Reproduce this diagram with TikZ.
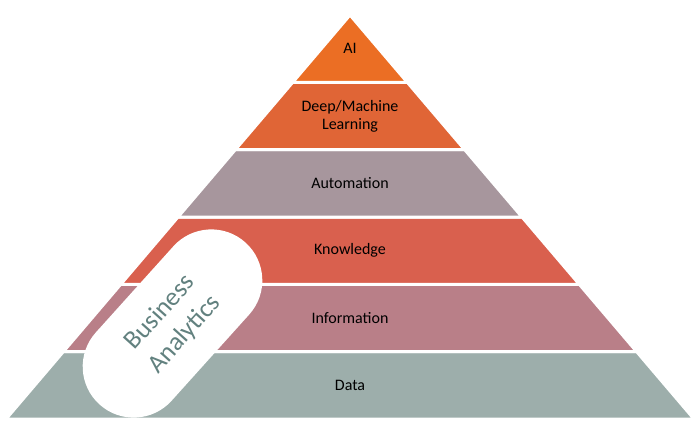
\documentclass[tikz,border=0pt]{standalone}
\usepackage{fontspec}
\setmainfont{Carlito}
\usetikzlibrary{positioning}
\definecolor{aiorange}{HTML}{EB6E24}
\definecolor{dmlorange}{HTML}{E06536}
\definecolor{automauve}{HTML}{A7969D}
\definecolor{knowred}{HTML}{D9604E}
\definecolor{inforose}{HTML}{B97F88}
\definecolor{datagrey}{HTML}{9DAEAB}
\definecolor{batext}{HTML}{62817F}
\tikzset{
  band/.style={fill=#1, draw=white, line width=3pt, line join=round},
  lbl/.style={font=\fontsize{16}{18}\selectfont, text=black, align=center},
  pill/.style={fill=white, rounded corners=51pt, minimum width=218pt,
               minimum height=102pt, align=center, text=batext,
               font=\fontsize{26}{33}\selectfont}}
\begin{document}
\begin{tikzpicture}[x=1pt, y=1pt]
  \useasboundingbox (0,0) rectangle (700,434);
  % pyramid bands, bottom to top
  \draw[band=datagrey]  (6,15)     -- (694,15)    -- (636.7,82.3)  -- (63.3,82.3)  -- cycle;
  \draw[band=inforose]  (63.3,82.3) -- (636.7,82.3) -- (579.3,149.7) -- (120.7,149.7) -- cycle;
  \draw[band=knowred]   (120.7,149.7) -- (579.3,149.7) -- (522,217) -- (178,217) -- cycle;
  \draw[band=automauve] (178,217)  -- (522,217)   -- (464.7,284.3) -- (235.3,284.3) -- cycle;
  \draw[band=dmlorange] (235.3,284.3) -- (464.7,284.3) -- (407.3,351.7) -- (292.7,351.7) -- cycle;
  \draw[band=aiorange]  (292.7,351.7) -- (407.3,351.7) -- (350,419) -- cycle;
  % labels
  \node[lbl] (data) at (350,48.7) {Data};
  \node[lbl] (info) at (350,116) {Information};
  \node[lbl] (know) at (350,183.3) {Knowledge};
  \node[lbl] (auto) at (350,250.7) {Automation};
  \node[lbl] (dml)  at (350,318) {Deep/Machine\\Learning};
  \node[lbl] (ai)   at (350,386) {AI};
  % business analytics pill
  \node[pill, rotate=48] (ba) at (172.5,110.5) {Business\\Analytics};
\end{tikzpicture}
\end{document}
